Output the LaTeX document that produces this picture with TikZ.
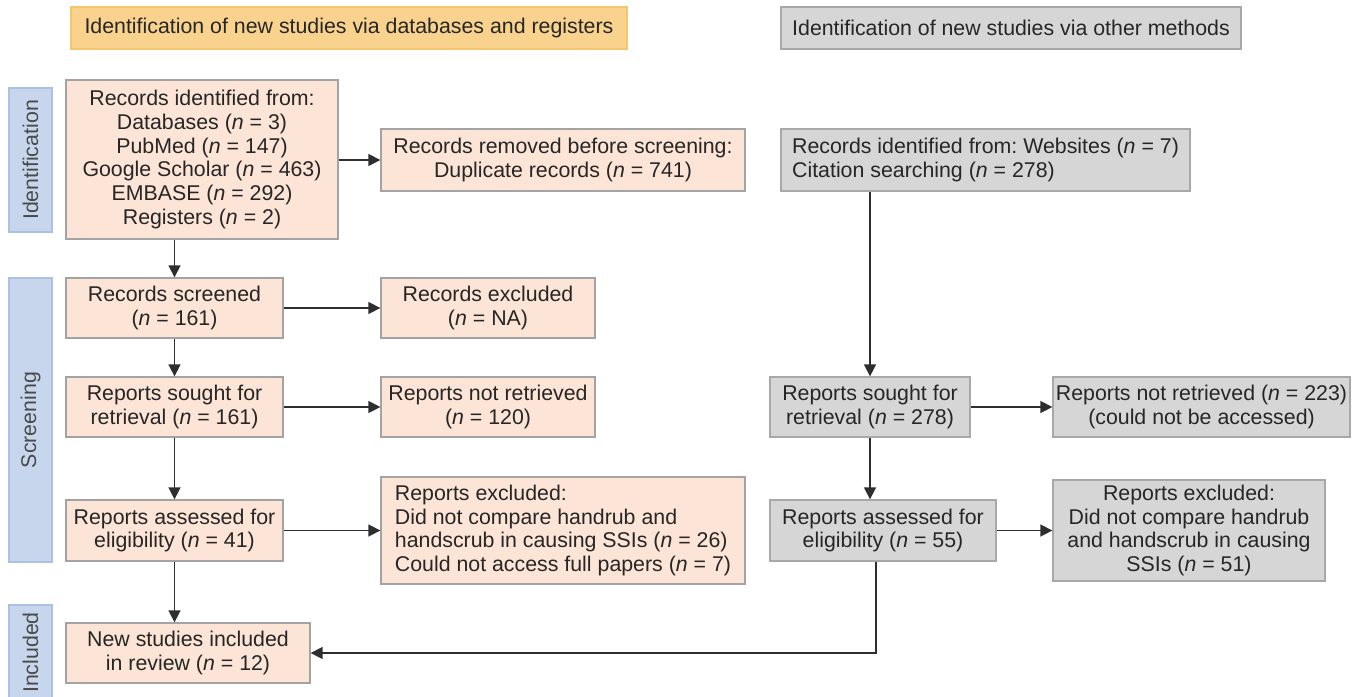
\documentclass[tikz,border=0pt]{standalone}
\usepackage{fontspec}
\setmainfont{Liberation Sans}
\usetikzlibrary{arrows.meta,calc}
\definecolor{peach}{HTML}{FCE4D6}
\definecolor{peachline}{HTML}{A3A3A3}
\definecolor{grayf}{HTML}{D5D6D5}
\definecolor{grayline}{HTML}{A8A8A8}
\definecolor{orangef}{HTML}{F9D38E}
\definecolor{orangeline}{HTML}{F4C66E}
\definecolor{bluef}{HTML}{C7D6EC}
\definecolor{blueline}{HTML}{A9C2E4}
\definecolor{txt}{HTML}{262626}
\definecolor{sidetxt}{HTML}{4A4A4A}
\definecolor{linec}{HTML}{2E2E2E}
\newcommand\nn{\textit{n}}
\frenchspacing
\begin{document}
\begin{tikzpicture}[x=0.75pt,y=-0.75pt,
  sz/.style 2 args={minimum width=#1*0.75pt, minimum height=#2*0.75pt},
  box/.style={draw=peachline, line width=1pt, inner sep=0pt, align=center,
    font=\fontsize{16}{17.8}\selectfont, text=txt},
  pbox/.style={box, fill=peach},
  gbox/.style={box, fill=grayf, draw=grayline},
  hdrA/.style={box, fill=orangef, draw=orangeline},
  hdrB/.style={box, fill=grayf, draw=grayline},
  side/.style={box, fill=bluef, draw=blueline, rotate=90, text=sidetxt},
  arr/.style={draw=linec, line width=1.2pt, -{Triangle[length=9pt,width=9pt]}},
]
\useasboundingbox (0,0) rectangle (1359,696);

% headers
\node[hdrA, sz={556}{42}] (hA) at (349,28) {Identification of new studies via databases and registers};
\node[hdrB, sz={460}{42}] (hB) at (1011,28) {Identification of new studies via other methods};

% side labels
\node[side, sz={144}{43}] (sI) at (30.5,160) {Identification};
\node[side, sz={284}{43}] (sS) at (30.5,420) {Screening};
\node[side, sz={95}{43}] (sN) at (30.5,652.5) {Included};

% left column
\node[pbox, sz={272}{159}] (recId) at (202,159.5) {Records identified from:\\ Databases (\nn{} = 3)\\ PubMed (\nn{} = 147)\\ Google Scholar (\nn{} = 463)\\ EMBASE (\nn{} = 292)\\ Registers (\nn{} = 2)};
\node[pbox, sz={364}{62}] (recRem) at (563,160) {Records removed before screening:\\ Duplicate records (\nn{} = 741)};
\node[pbox, sz={217}{60}] (recScr) at (174.5,308) {Records screened\\ (\nn{} = 161)};
\node[pbox, sz={214}{60}] (recExc) at (488,308) {Records excluded\\ (\nn{} = NA)};
\node[pbox, sz={217}{60}] (repS) at (174.5,407) {Reports sought for\\ retrieval (\nn{} = 161)};
\node[pbox, sz={214}{60}] (repNR) at (488,407) {Reports not retrieved\\ (\nn{} = 120)};
\node[pbox, sz={217}{61}] (repA) at (174.5,530.5) {Reports assessed for\\ eligibility (\nn{} = 41)};
\node[pbox, sz={364}{107}, align=left] (repE) at (563,530.5) {Reports excluded:\\ Did not compare handrub and\\ handscrub in causing SSIs (\nn{} = 26)\\ Could not access full papers (\nn{} = 7)};
\node[pbox, sz={244}{60}] (newI) at (188,653) {New studies included\\ in review (\nn{} = 12)};

% right column
\node[gbox, sz={409}{62}, align=left] (oId) at (985.5,160) {Records identified from: Websites (\nn{} = 7)\\ Citation searching (\nn{} = 278)};
\node[gbox, sz={200}{60}] (oS) at (870,407) {Reports sought for\\ retrieval (\nn{} = 278)};
\node[gbox, sz={297}{60}] (oNR) at (1201.5,407) {Reports not retrieved (\nn{} = 223)\\ (could not be accessed)};
\node[gbox, sz={226}{61}] (oA) at (883,530.5) {Reports assessed for\\ eligibility (\nn{} = 55)};
\node[gbox, sz={272}{101}] (oE) at (1189,530.5) {Reports excluded:\\ Did not compare handrub\\ and handscrub in causing\\ SSIs (\nn{} = 51)};

% connectors left
\draw[arr] (recId.south -| recScr.north) -- (recScr.north);
\draw[arr] (recScr.south) -- (repS.north);
\draw[arr] (repS.south) -- (repA.north);
\draw[arr] (repA.south) -- (newI.north -| repA.south);
\draw[arr] (recId.east |- recRem.west) -- (recRem.west);
\draw[arr] (recScr.east) -- (recExc.west);
\draw[arr] (repS.east) -- (repNR.west);
\draw[arr] (repA.east) -- (repE.west);

% connectors right
\draw[arr] (oS.north |- oId.south) -- (oS.north);
\draw[arr] (oS.south) -- (oS.south |- oA.north);
\draw[arr] (oS.east) -- (oNR.west);
\draw[arr] (oA.east) -- (oE.west);
\coordinate (turn) at (876,653);
\draw[arr] (oA.south -| turn) -- (turn) -- (newI.east);
\end{tikzpicture}
\end{document}
